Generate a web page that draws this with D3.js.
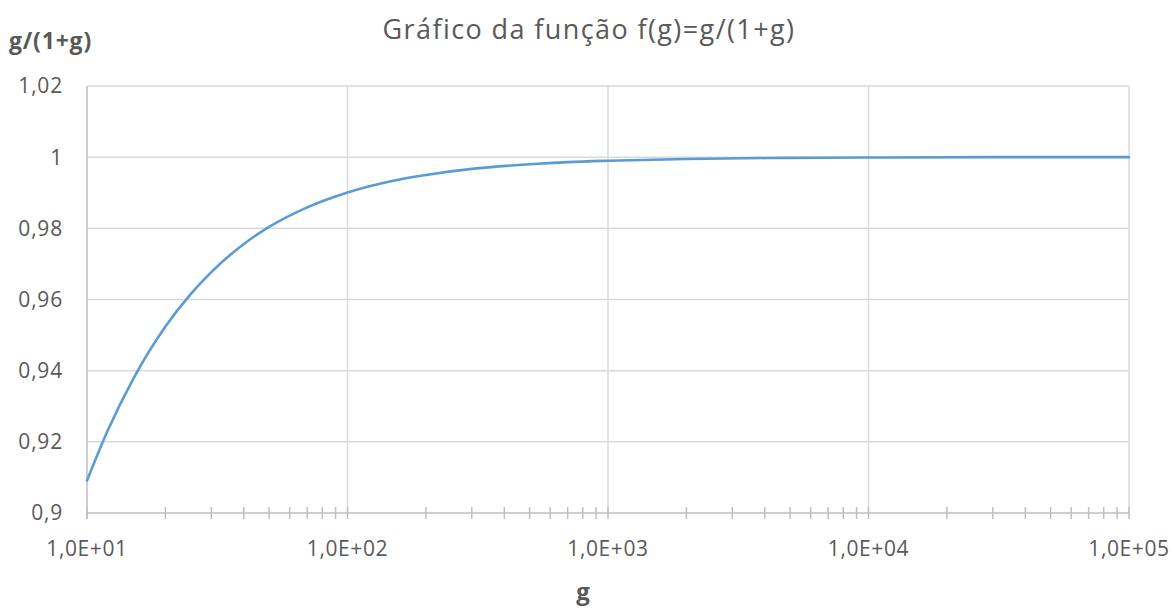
<!DOCTYPE html>
<html><head><meta charset="utf-8">
<script src="https://cdn.jsdelivr.net/npm/d3@7"></script>
<style>body{margin:0;background:#fff}svg{display:block}</style>
</head><body>
<script>
const gValues = [10, 12, 15, 20, 25, 30, 40, 50, 70, 100, 150, 200, 300, 500, 700, 1000, 2000, 5000, 10000, 30000, 100000];
const fValues = [0.9091, 0.9231, 0.9375, 0.9524, 0.9615, 0.9677, 0.9756, 0.9804, 0.9859, 0.9901, 0.9934, 0.9950, 0.9967, 0.9980, 0.9986, 0.9990, 0.9995, 0.9998, 0.9999, 1.0000, 1.0000];
const yTicks = [0.9, 0.92, 0.94, 0.96, 0.98, 1, 1.02];
const yTickLabels = ["0,9", "0,92", "0,94", "0,96", "0,98", "1", "1,02"];
const xTicks = [10, 100, 1000, 10000, 100000];
const xTickLabels = ["1,0E+01", "1,0E+02", "1,0E+03", "1,0E+04", "1,0E+05"];
const title = "Gráfico da função f(g)=g/(1+g)";
const yTitle = "g/(1+g)";
const xTitle = "g";

const W = 1176, H = 608;
const m = {left: 87, right: 1129, top: 86, bottom: 513};
const font = "'Open Sans', sans-serif";
const svg = d3.select("body").append("svg").attr("width", W).attr("height", H);
const x = d3.scaleLog().domain([10, 100000]).range([m.left, m.right]);
const y = d3.scaleLinear().domain([0.9, 1.02]).range([m.bottom, m.top]);

// horizontal gridlines
svg.append("g").selectAll("line").data(yTicks.slice(1)).join("line")
  .attr("x1", m.left).attr("x2", m.right)
  .attr("y1", d => y(d)).attr("y2", d => y(d))
  .attr("stroke", "#d9d9d9").attr("stroke-width", 1.5);
// vertical gridlines
svg.append("g").selectAll("line").data(xTicks.slice(1)).join("line")
  .attr("x1", d => x(d)).attr("x2", d => x(d))
  .attr("y1", m.top).attr("y2", m.bottom)
  .attr("stroke", "#d9d9d9").attr("stroke-width", 1.5);

// minor ticks
const minor = [];
for (let e = 1; e < 5; e++) for (let k = 1; k <= 9; k++) minor.push(k * Math.pow(10, e));
minor.push(100000);
svg.append("g").selectAll("line").data(minor).join("line")
  .attr("x1", d => x(d)).attr("x2", d => x(d))
  .attr("y1", m.bottom - 6).attr("y2", m.bottom + 6)
  .attr("stroke", "#bfbfbf").attr("stroke-width", 1.5);

// axis lines
svg.append("line").attr("x1", m.left).attr("x2", m.right).attr("y1", m.bottom).attr("y2", m.bottom)
  .attr("stroke", "#bfbfbf").attr("stroke-width", 1.5);
svg.append("line").attr("x1", m.left).attr("x2", m.left).attr("y1", m.top).attr("y2", m.bottom + 6)
  .attr("stroke", "#bfbfbf").attr("stroke-width", 1.5);

// y tick labels
svg.append("g").selectAll("text").data(yTicks).join("text")
  .attr("x", 63).attr("y", d => y(d)).attr("dy", "0.35em")
  .attr("text-anchor", "end").attr("font-family", font).attr("font-size", 21).attr("letter-spacing", 0.8).attr("fill", "#595959")
  .text((d, i) => yTickLabels[i]);
// x tick labels
svg.append("g").selectAll("text").data(xTicks).join("text")
  .attr("x", d => x(d)).attr("y", 549).attr("dy", "0.35em")
  .attr("text-anchor", "middle").attr("font-family", font).attr("font-size", 21).attr("letter-spacing", 0.6).attr("fill", "#595959")
  .text((d, i) => xTickLabels[i]);

// line
const pts = gValues.map((g, i) => [g, fValues[i]]);
svg.append("path").datum(pts)
  .attr("fill", "none").attr("stroke", "#5b9bd5").attr("stroke-width", 2.6).attr("stroke-linecap", "round")
  .attr("d", d3.line().x(d => x(d[0])).y(d => y(d[1])).curve(d3.curveMonotoneX));

// titles
svg.append("text").attr("x", 589).attr("y", 30).attr("dy", "0.35em").attr("text-anchor", "middle")
  .attr("font-family", font).attr("font-size", 27).attr("letter-spacing", 1.4).attr("fill", "#595959").text(title);
svg.append("text").attr("x", 9).attr("y", 41).attr("dy", "0.35em")
  .attr("font-family", font).attr("font-size", 23).attr("letter-spacing", 0.8).attr("font-weight", "bold").attr("fill", "#595959").text(yTitle);
svg.append("text").attr("x", 583).attr("y", 592).attr("dy", "0.35em").attr("text-anchor", "middle")
  .attr("font-family", font).attr("font-size", 24).attr("font-weight", "bold").attr("fill", "#595959").text(xTitle);
</script>
</body></html>
